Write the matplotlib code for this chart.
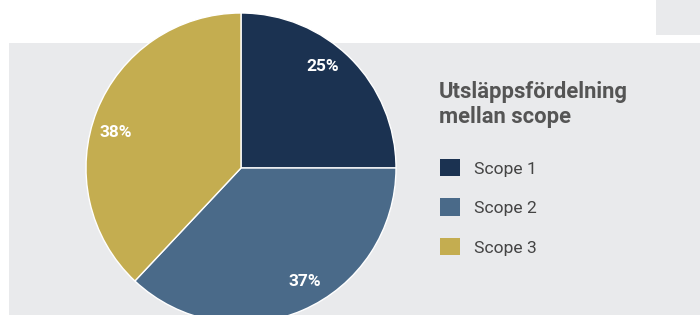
import numpy as np
import matplotlib
matplotlib.use("Agg")
import matplotlib.pyplot as plt
from matplotlib.patches import Rectangle, Patch

labels = ["Scope 1", "Scope 2", "Scope 3"]
values = [25, 37, 38]
colors = ["#1b3251", "#4a6a89", "#c4ad50"]
title = "Utsläppsfördelning\nmellan scope"

W, H = 700, 315
fig = plt.figure(figsize=(W / 100, H / 100), dpi=100)
fig.patch.set_facecolor("white")

# grey panels
fig.patches.append(Rectangle((9 / W, 0), 1 - 9 / W, (H - 43) / H, transform=fig.transFigure,
                             facecolor="#e9eaec", edgecolor="none", zorder=0))
fig.patches.append(Rectangle((656 / W, (H - 35) / H), 1 - 656 / W, 35 / H, transform=fig.transFigure,
                             facecolor="#e9eaec", edgecolor="none", zorder=0))

cx, cy, r = 241, 168, 155
ax = fig.add_axes([(cx - r) / W, (H - cy - r) / H, 2 * r / W, 2 * r / H])
ax.set_zorder(2)

wedges, _ = ax.pie(values, colors=colors, startangle=90, counterclock=False, radius=1,
                   wedgeprops=dict(edgecolor="white", linewidth=1.0))
ax.set_xlim(-1, 1)
ax.set_ylim(-1, 1)
ax.set_aspect("equal")
ax.axis("off")
ax.patch.set_alpha(0)

for w, v in zip(wedges, values):
    mid = np.deg2rad((w.theta1 + w.theta2) / 2 + 6)
    d = 0.84
    ax.text(d * np.cos(mid), d * np.sin(mid), f"{v}%", ha="center", va="center",
            color="white", fontsize=12.5, fontweight="bold", family=["Roboto", "DejaVu Sans"])

fig.text(439 / W, (H - 81) / H, title, ha="left", va="top", fontsize=15.8, fontweight="bold",
         color="#555555", family=["Roboto", "DejaVu Sans"], linespacing=1.15, zorder=3)

handles = [Patch(facecolor=c, edgecolor="none") for c in colors]
leg = fig.legend(handles, labels, loc="upper left", bbox_to_anchor=(433 / W, (H - 152) / H),
                 frameon=False, prop=dict(family=["Roboto", "DejaVu Sans"], size=12.6),
                 handlelength=1.15, handleheight=1.15, handletextpad=0.8, labelspacing=1.25,
                 borderaxespad=0, borderpad=0.4)
leg.set_zorder(3)
for t in leg.get_texts():
    t.set_color("#444444")

fig.savefig("out.png", dpi=100)
